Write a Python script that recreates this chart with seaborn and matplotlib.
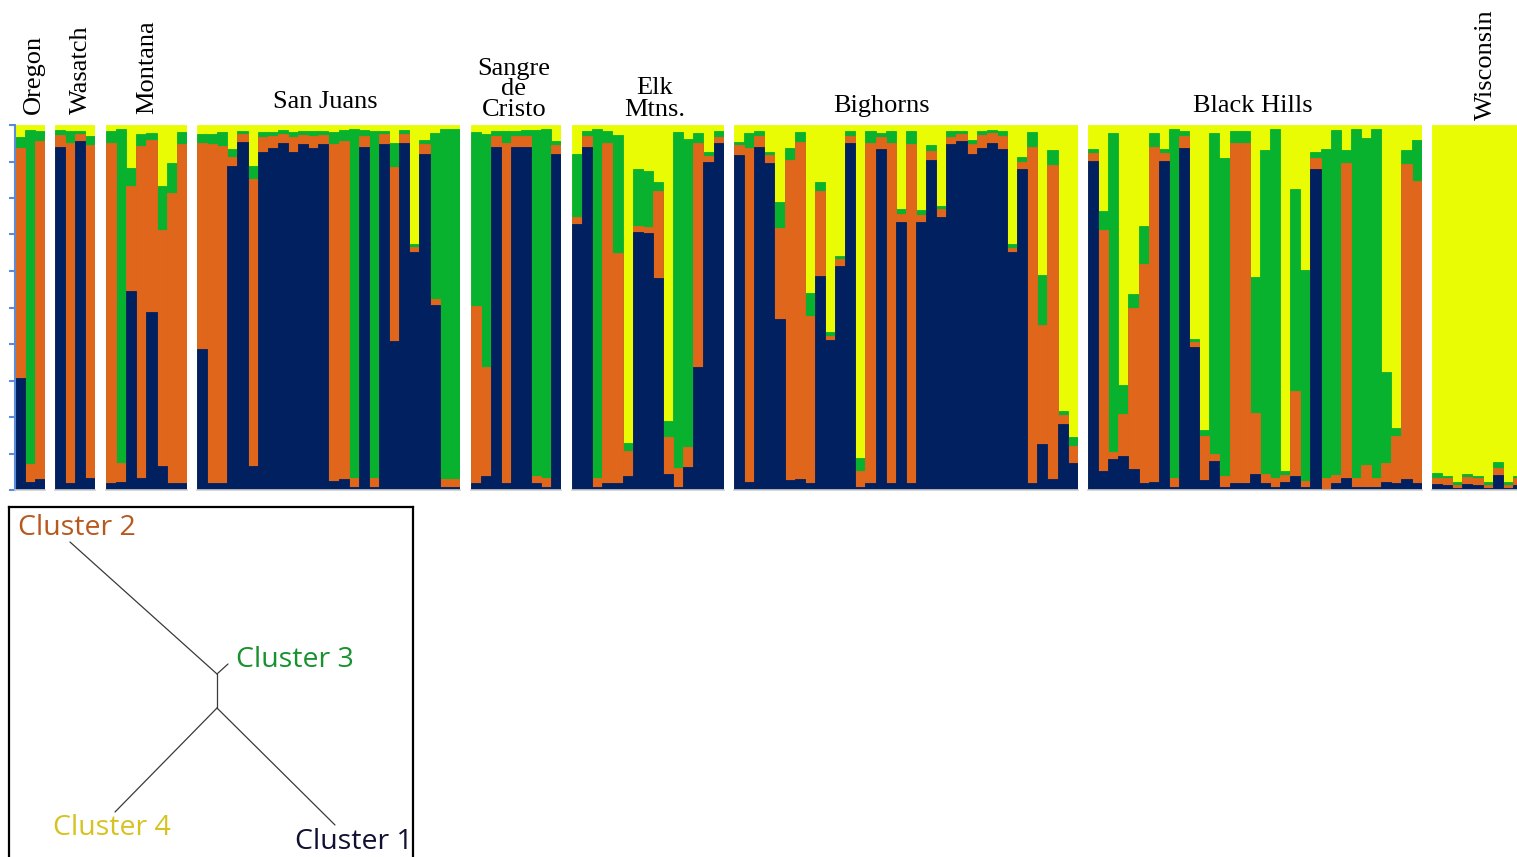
import numpy as np
import pandas as pd
import matplotlib
matplotlib.use("Agg")
import matplotlib.pyplot as plt
import seaborn as sns

# ---------------- data: membership (q) per individual for clusters 1-3; cluster 4 = remainder
populations = ["Oregon", "Wasatch", "Montana", "San Juans", "Sangre de Cristo",
               "Elk Mtns.", "Bighorns", "Black Hills", "Wisconsin"]

oregon_q1 = [.308, .023, .029]
oregon_q2 = [.630, .047, .927]
oregon_q3 = [.030, .916, .028]

wasatch_q1 = [.940, .020, .957, .034]
wasatch_q2 = [.032, .932, .017, .911]
wasatch_q3 = [.014, .032, .010, .025]

montana_q1 = [.020, .023, .545, .032, .489, .066, .020, .018]
montana_q2 = [.930, .050, .288, .911, .470, .645, .793, .930]
montana_q3 = [.034, .915, .048, .032, .020, .122, .084, .034]

sanjuans_q1 = [.385, .020, .020, .889, .954, .066, .927, .938, .952, .927, .948, .938, .948,
               .025, .029, .009, .941, .009, .947, .408, .950, .651, .921, .507, .007, .007]
sanjuans_q2 = [.565, .927, .922, .022, .021, .785, .039, .032, .023, .041, .025, .032, .025,
               .922, .927, .023, .030, .025, .027, .476, .025, .016, .026, .015, .024, .024]
sanjuans_q3 = [.025, .028, .040, .022, .009, .038, .014, .012, .011, .014, .011, .014, .011,
               .035, .029, .957, .014, .950, .010, .068, .011, .007, .012, .455, .958, .958]

sangre_q1 = [.018, .039, .941, .020, .941, .941, .018, .009, .920]
sangre_q2 = [.487, .297, .030, .930, .030, .030, .021, .023, .025]
sangre_q3 = [.477, .638, .013, .034, .013, .015, .947, .957, .011]

elk_q1 = [.729, .941, .007, .020, .018, .037, .708, .703, .582, .043, .009, .064, .338, .900, .950]
elk_q2 = [.020, .030, .025, .932, .630, .070, .016, .017, .237, .101, .050, .053, .614, .016, .018]
elk_q3 = [.172, .013, .957, .032, .325, .023, .155, .154, .024, .045, .921, .845, .027, .011, .016]

bighorns_q1 = [.918, .023, .941, .897, .468, .027, .029, .020, .586, .411, .615, .952, .009,
               .018, .933, .018, .735, .018, .735, .904, .749, .948, .957, .921, .938, .952,
               .933, .651, .879, .020, .125, .029, .181, .075]
bighorns_q2 = [.027, .915, .030, .021, .249, .877, .925, .458, .233, .012, .017, .019, .043,
               .934, .033, .934, .021, .929, .018, .026, .020, .020, .017, .027, .035, .025,
               .037, .013, .019, .919, .327, .861, .024, .046]
bighorns_q3 = [.009, .039, .013, .009, .073, .032, .028, .061, .024, .009, .009, .013, .037,
               .032, .013, .032, .013, .037, .014, .015, .010, .016, .010, .011, .011, .009,
               .014, .009, .013, .041, .137, .042, .011, .023]

blackhills_q1 = [.902, .053, .085, .093, .058, .018, .023, .902, .009, .938, .393, .027, .080,
                 .007, .020, .020, .044, .018, .007, .023, .037, .007, .879, .003, .018, .032,
                 .009, .009, .009, .023, .018, .030, .020]
blackhills_q2 = [.022, .658, .020, .114, .442, .600, .916, .022, .023, .032, .012, .122, .020,
                 .032, .932, .932, .166, .026, .025, .018, .234, .018, .031, .029, .023, .863,
                 .023, .059, .023, .050, .131, .862, .827]
blackhills_q3 = [.010, .054, .874, .081, .037, .105, .040, .010, .957, .014, .009, .015, .877,
                 .870, .032, .032, .373, .888, .957, .011, .554, .578, .015, .902, .945, .037,
                 .957, .897, .957, .251, .022, .040, .112]

wisconsin_q1 = [.016, .014, .006, .016, .014, .006, .041, .006, .014]
wisconsin_q2 = [.018, .018, .008, .019, .018, .008, .018, .008, .018]
wisconsin_q3 = [.012, .006, .009, .009, .006, .009, .019, .009, .006]

pop_q = [
    (oregon_q1, oregon_q2, oregon_q3),
    (wasatch_q1, wasatch_q2, wasatch_q3),
    (montana_q1, montana_q2, montana_q3),
    (sanjuans_q1, sanjuans_q2, sanjuans_q3),
    (sangre_q1, sangre_q2, sangre_q3),
    (elk_q1, elk_q2, elk_q3),
    (bighorns_q1, bighorns_q2, bighorns_q3),
    (blackhills_q1, blackhills_q2, blackhills_q3),
    (wisconsin_q1, wisconsin_q2, wisconsin_q3),
]

cluster_names = ["Cluster 1", "Cluster 2", "Cluster 3", "Cluster 4"]
bar_colors = ["#01205f", "#e0661b", "#08b22e", "#eafc03"]
label_colors = ["#101030", "#b8581e", "#17922f", "#d6c320"]

# ---------------- layout (pixels)
W, H = 1517, 857
BAR_PX = 10.11
TOP, BOT = 125, 490
panel_x0 = [15, 55, 106, 197, 470.5, 572, 734, 1088, 1432]
FIG_RIGHT = 1517

sns.set_theme(style="white")
plt.rcParams['font.family'] = ['Liberation Serif', 'DejaVu Serif']

fig = plt.figure(figsize=(W / 100, H / 100), dpi=100)


def px_axes(x0, y0, x1, y1):
    return fig.add_axes([x0 / W, 1 - y1 / H, (x1 - x0) / W, (y1 - y0) / H])


def fx(x):
    return x / W


def fy(y):
    return 1 - y / H


for i, (q1, q2, q3) in enumerate(pop_q):
    n = len(q1)
    x0 = panel_x0[i]
    x1 = min(x0 + n * BAR_PX, FIG_RIGHT)
    ax = px_axes(x0, TOP, x1, BOT)
    df = pd.DataFrame({"ind": np.arange(n), "q1": q1, "q2": q2, "q3": q3})
    df["c1"] = df["q1"]
    df["c2"] = df["c1"] + df["q2"]
    df["c3"] = df["c2"] + df["q3"]
    df["c4"] = 1.0
    for col, color in [("c4", bar_colors[3]), ("c3", bar_colors[2]),
                       ("c2", bar_colors[1]), ("c1", bar_colors[0])]:
        sns.barplot(data=df, x="ind", y=col, color=color, width=1.0, saturation=1,
                    errorbar=None, ax=ax, linewidth=0.6, edgecolor=color)
    ax.set_xlim(-0.5, -0.5 + (x1 - x0) / BAR_PX)
    ax.set_ylim(0, 1)
    ax.set_xlabel("")
    ax.set_ylabel("")
    ax.set_xticks([])
    for s in ["top", "right", "left"]:
        ax.spines[s].set_visible(False)
    ax.spines["bottom"].set_color("#cfcfcf")
    ax.spines["bottom"].set_linewidth(1.2)
    if i == 0:
        ax.spines["left"].set_visible(True)
        ax.spines["left"].set_color("#5b8bd9")
        ax.spines["left"].set_linewidth(1.5)
        ax.set_yticks(np.linspace(0, 1, 11))
        ax.tick_params(axis="y", which="both", left=True, direction="out", length=4.5,
                       width=1.5, color="#5b8bd9", labelleft=False)
    else:
        ax.set_yticks([])

# ---------------- population labels
lab_fs = 19
rot_labels = [("Oregon", 40, 113.5), ("Wasatch", 87, 113.5), ("Montana", 153, 113.5),
              ("Wisconsin", 1491.5, 120)]
for txt, bx, by in rot_labels:
    fig.text(fx(bx), fy(by), txt, rotation=90, rotation_mode="anchor", ha="left",
             va="baseline", fontsize=lab_fs, color="black")

flat_labels = [("San Juans", 325, 108), ("Sangre", 514, 74.5), ("de", 514, 95),
               ("Cristo", 514, 116), ("Elk", 655, 94.5), ("Mtns.", 655, 116),
               ("Bighorns", 882, 112), ("Black Hills", 1253, 112)]
for txt, cx, by in flat_labels:
    fig.text(fx(cx), fy(by), txt, ha="center", va="baseline", fontsize=lab_fs, color="black")

# ---------------- inset tree of clusters
tax = px_axes(9, 507, 413.5, 890)
tax.set_xlim(9, 413.5)
tax.set_ylim(890, 507)
tax.set_xticks([])
tax.set_yticks([])
tax.set_facecolor("white")
for s in tax.spines.values():
    s.set_visible(True)
    s.set_color("black")
    s.set_linewidth(1.6)

node_upper = (217, 674)
node_lower = (217, 708)
tip_x = [335, 70, 228, 115]   # Cluster 1..4
tip_y = [825, 542, 664, 812]
attach = [node_lower, node_upper, node_upper, node_lower]
for k in range(4):
    tax.plot([attach[k][0], tip_x[k]], [attach[k][1], tip_y[k]], color="#3a3a3a", lw=0.9)
tax.plot([node_upper[0], node_lower[0]], [node_upper[1], node_lower[1]], color="#3a3a3a", lw=0.9)

lab_x = [295, 18.5, 236.5, 53.5]
lab_y = [849, 535, 666.5, 835]
for k in range(4):
    tax.text(lab_x[k], lab_y[k], cluster_names[k], ha="left", va="baseline",
             fontsize=20.5, color=label_colors[k], family=["Open Sans", "DejaVu Sans"])

fig.savefig("out.png", dpi=100)
